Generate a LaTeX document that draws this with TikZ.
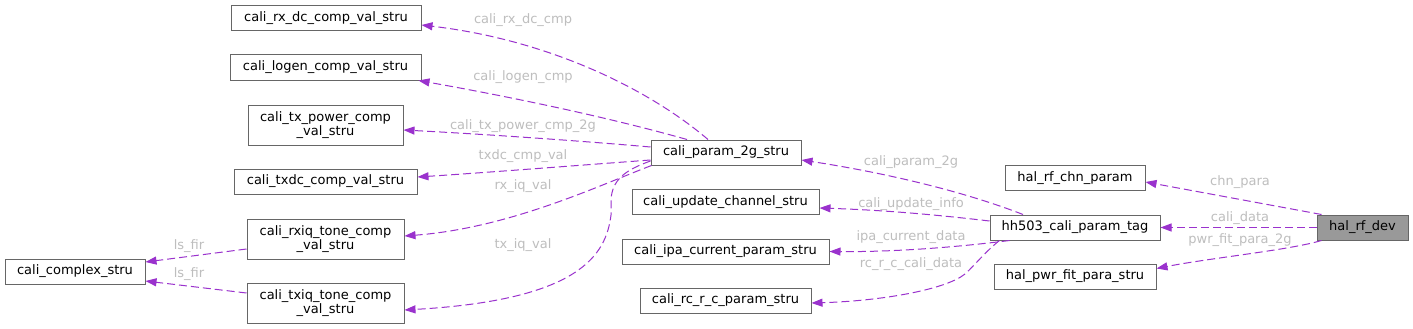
\documentclass[tikz,border=0pt]{standalone}
\usepackage{fontspec}
\setmainfont{DejaVu Sans}
\usetikzlibrary{arrows.meta}
\definecolor{edgec}{HTML}{9A32CD}
\definecolor{labc}{HTML}{BEBEBE}
\definecolor{boxc}{HTML}{666666}
\definecolor{fillc}{HTML}{999999}
\begin{document}
\begin{tikzpicture}[x=1pt,y=-1pt,
 box/.style={draw=boxc, line width=1pt, inner sep=0pt, minimum height=25pt, font=\fontsize{13}{14.5}\selectfont, align=center},
 tall/.style={box, minimum height=40pt},
 edge/.style={draw=edgec, line width=1pt, dash pattern=on 8pt off 4pt, -{Triangle[length=11pt,width=8pt]}},
 lab/.style={text=labc, font=\fontsize{13}{14.5}\selectfont, inner sep=0pt, text height=9.5pt, text depth=3pt}]
\fill[white] (0,0) rectangle (1413,329);
\useasboundingbox (0,0) rectangle (1413,329);

% nodes
\node[box, minimum width=190pt] (rxdc) at (326,18) {cali\_rx\_dc\_comp\_val\_stru};
\node[box, minimum width=191pt] (logen) at (325.5,67.5) {cali\_logen\_comp\_val\_stru};
\node[tall, minimum width=155pt] (txpow) at (325.5,125) {cali\_tx\_power\_comp\\\_val\_stru};
\node[box, minimum width=183pt] (txdc) at (325.5,181.5) {cali\_txdc\_comp\_val\_stru};
\node[tall, minimum width=157pt] (rxiq) at (325.5,239) {cali\_rxiq\_tone\_comp\\\_val\_stru};
\node[box, minimum width=140pt] (cplx) at (75,271.5) {cali\_complex\_stru};
\node[tall, minimum width=157pt] (txiq) at (325.5,303) {cali\_txiq\_tone\_comp\\\_val\_stru};
\node[box, minimum width=150pt] (p2g) at (726,152.5) {cali\_param\_2g\_stru};
\node[box, minimum width=187pt] (upd) at (725.5,202) {cali\_update\_channel\_stru};
\node[box, minimum width=207pt] (ipa) at (725.5,251.5) {cali\_ipa\_current\_param\_stru};
\node[box, minimum width=171pt] (rrc) at (725.5,300.5) {cali\_rc\_r\_c\_param\_stru};
\node[box, minimum width=140pt] (chn) at (1075,178) {hal\_rf\_chn\_param};
\node[box, minimum width=170pt] (hh) at (1075,227.5) {hh503\_cali\_param\_tag};
\node[box, minimum width=162pt] (pwr) at (1075,276.5) {hal\_pwr\_fit\_para\_stru};
\node[box, minimum width=91pt, fill=fillc] (dev) at (1362.5,227.5) {hal\_rf\_dev};

% edges from hal_rf_dev
\draw[edge] ([xshift=5pt]dev.north west) -- ([yshift=-4pt]chn.east);
\draw[edge] (dev.west) -- (hh.east);
\draw[edge] ([xshift=5pt]dev.south west) .. controls (1290,250) and (1210,258) .. ([yshift=8pt]pwr.east);

% edges from hh503
\draw[edge] ([xshift=-52pt]hh.north) .. controls (960,190) and (880,172) .. ([yshift=-7.5pt]p2g.east);
\draw[edge] ([yshift=6.5pt]hh.west) .. controls (930,214) and (880,210) .. ([yshift=-6pt]upd.east);
\draw[edge] ([xshift=20pt]hh.south west) .. controls (950,248) and (890,252) .. (ipa.east);
\draw[edge] ([xshift=10pt]hh.south west) .. controls (985,252) and (975,265) .. (965,274)
  .. controls (945,290) and (880,301) .. ([yshift=-2.5pt]rrc.east);

% edges from cali_param_2g
\draw[edge] ([xshift=-18pt]p2g.north) .. controls (650,90) and (550,40) .. ([yshift=-7pt]rxdc.east);
\draw[edge] ([xshift=-39pt]p2g.north) .. controls (600,115) and (500,95) .. ([xshift=-3pt]logen.south east);
\draw[edge] ([yshift=5.5pt]p2g.west) .. controls (570,140) and (480,134) .. ([yshift=-5pt]txpow.east);
\draw[edge] ([yshift=-7.5pt]p2g.west) .. controls (570,166) and (480,173) .. ([yshift=4.5pt]txdc.east);
\draw[edge] ([xshift=1pt]p2g.south west) .. controls (600,185) and (510,228) .. ([yshift=3pt]rxiq.east);
\draw[edge] ([yshift=-8.5pt]p2g.west) .. controls (625,170) and (612,180) .. (611,200)
  -- (611,215) .. controls (606,255) and (580,300) .. ([yshift=-7pt]txiq.east);

% edges to cali_complex
\draw[edge] ([yshift=-10pt]rxiq.west) -- ([yshift=9.5pt]cplx.east);
\draw[edge] ([yshift=10pt]txiq.west) -- ([yshift=-9.5pt]cplx.east);

% labels
\node[lab] (l1) at (1240,182) {chn\_para};
\node[lab] (l2) at (1240,218.5) {cali\_data};
\node[lab] (l3) at (1240,240.5) {pwr\_fit\_para\_2g};
\node[lab] (l4) at (911,162) {cali\_param\_2g};
\node[lab] (l5) at (911,204) {cali\_update\_info};
\node[lab] (l6) at (911,237) {ipa\_current\_data};
\node[lab] (l7) at (911,264) {rc\_r\_c\_cali\_data};
\node[lab] (l8) at (523,20) {cali\_rx\_dc\_cmp};
\node[lab] (l9) at (523,77) {cali\_logen\_cmp};
\node[lab] (l10) at (523,126) {cali\_tx\_power\_cmp\_2g};
\node[lab] (l11) at (523,156) {txdc\_cmp\_val};
\node[lab] (l12) at (523,186) {rx\_iq\_val};
\node[lab] (l13) at (523,245) {tx\_iq\_val};
\node[lab] (l14) at (189,246) {ls\_fir};
\node[lab] (l15) at (189,274.5) {ls\_fir};
\end{tikzpicture}
\end{document}
